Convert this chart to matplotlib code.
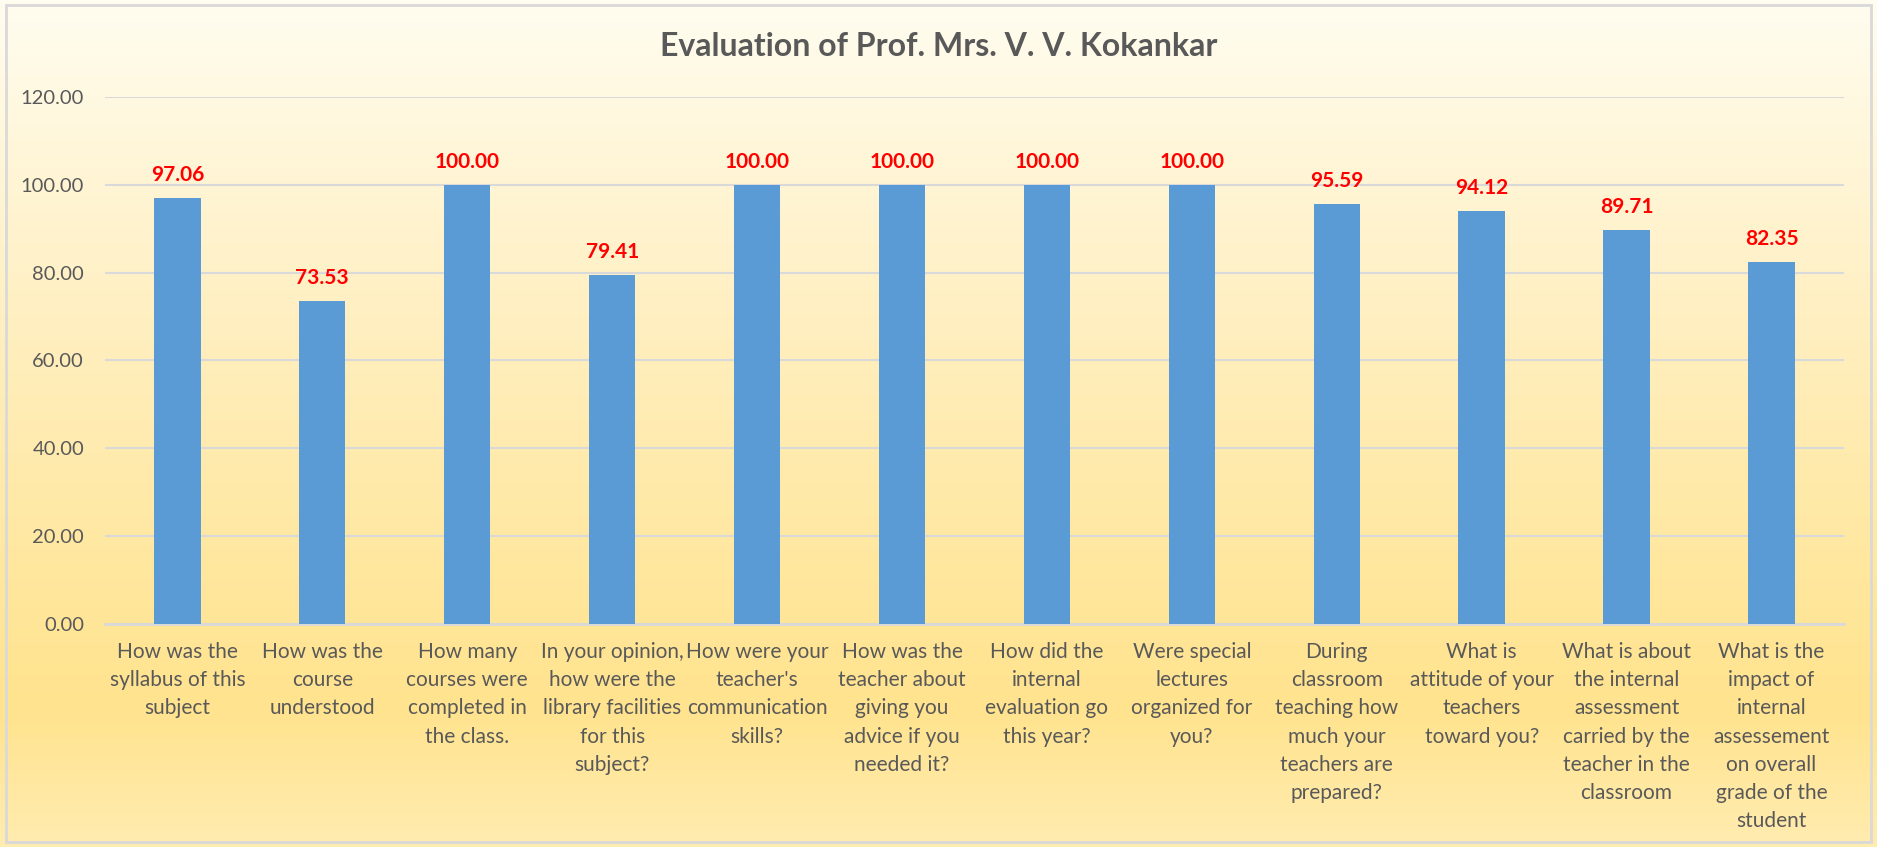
import numpy as np
import matplotlib
matplotlib.use("Agg")
import matplotlib.pyplot as plt
from matplotlib.colors import LinearSegmentedColormap
from matplotlib.patches import Rectangle

# Data
questions = [
    "How was the\nsyllabus of this\nsubject",
    "How was the\ncourse\nunderstood",
    "How many\ncourses were\ncompleted in\nthe class.",
    "In your opinion,\nhow were the\nlibrary facilities\nfor this\nsubject?",
    "How were your\nteacher's\ncommunication\nskills?",
    "How was the\nteacher about\ngiving you\nadvice if you\nneeded it?",
    "How did the\ninternal\nevaluation go\nthis year?",
    "Were special\nlectures\norganized for\nyou?",
    "During\nclassroom\nteaching how\nmuch your\nteachers are\nprepared?",
    "What is\nattitude of your\nteachers\ntoward you?",
    "What is about\nthe internal\nassessment\ncarried by the\nteacher in the\nclassroom",
    "What is the\nimpact of\ninternal\nassessement\non overall\ngrade of the\nstudent",
]
scores = [97.06, 73.53, 100.00, 79.41, 100.00, 100.00, 100.00, 100.00,
          95.59, 94.12, 89.71, 82.35]
yticks = [0, 20, 40, 60, 80, 100, 120]

plt.rcParams['font.family'] = ['Lato', 'DejaVu Sans']
grey = '#595959'

fig = plt.figure(figsize=(18.77, 8.47), dpi=100)

# gradient background over whole figure
bg = fig.add_axes([0, 0, 1, 1], zorder=-10)
cmap = LinearSegmentedColormap.from_list('bg', [
    (0.0, '#FFFDF0'),
    (0.35, '#FFF0C4'),
    (0.72, '#FFE699'),
    (0.84, '#FFE38E'),
    (1.0, '#FFECB0'),
])
bg.imshow(np.linspace(0, 1, 256).reshape(-1, 1), aspect='auto', cmap=cmap,
          extent=[0, 1, 1, 0])
bg.set_xlim(0, 1)
bg.set_ylim(1, 0)
bg.axis('off')
bg.add_patch(Rectangle((0.003, 0.006), 0.994, 0.988, fill=False,
                       edgecolor='#D9D9D9', linewidth=2))

ax = fig.add_axes([0.0559, 0.2633, 0.9265, 0.6222])
ax.patch.set_alpha(0)
x = np.arange(len(scores))
bars = ax.bar(x, scores, width=0.32, color='#5B9BD5', zorder=3)

ax.set_ylim(0, 120)
ax.set_xlim(-0.5, len(scores) - 0.5)
ax.set_yticks(yticks)
ax.set_yticklabels([f"{v:.2f}" for v in yticks], fontsize=14.5, color=grey)
ax.yaxis.grid(True, color='#D9D9D9', linewidth=1.5, zorder=0)
ax.set_axisbelow(True)
for s in ['top', 'right', 'left']:
    ax.spines[s].set_visible(False)
ax.spines['bottom'].set_color('#D9D9D9')
ax.spines['bottom'].set_linewidth(2)
ax.tick_params(axis='y', length=0, pad=15)
ax.tick_params(axis='x', length=0, pad=13)
ax.set_xticks(x)
ax.set_xticklabels(questions, fontsize=15, color=grey, linespacing=1.51,
                   va='top', ha='center')

for xi, v in zip(x, scores):
    ax.annotate(f"{v:.2f}", (xi, v), xytext=(0, 16.5), textcoords='offset points',
                ha='center', va='center', fontsize=15, fontweight='bold',
                color='#FF0000')

fig.text(0.5, 1 - 46 / 847, "Evaluation of Prof. Mrs. V. V. Kokankar",
         ha='center', va='center', fontsize=23, fontweight='bold', color=grey)

fig.savefig('out.png', dpi=100)
